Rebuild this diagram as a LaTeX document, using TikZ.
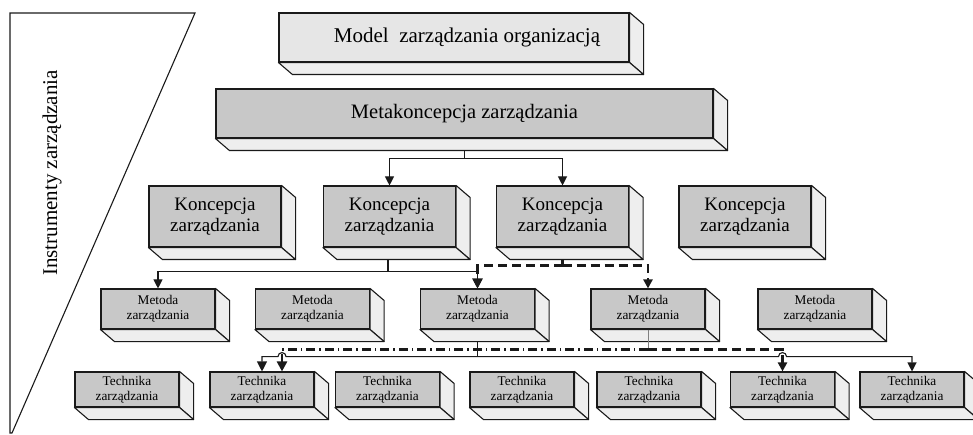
\documentclass[tikz,border=0pt]{standalone}
\usepackage{fontspec}
\setmainfont{Liberation Serif}
\usetikzlibrary{arrows.meta,calc}
\definecolor{boxgray}{HTML}{C8C8C8}
\definecolor{boxlight}{HTML}{E6E6E6}
\definecolor{facegray}{HTML}{EEEEEE}
\definecolor{lnblack}{HTML}{1A1A1A}

\begin{document}
\begin{tikzpicture}[x=1pt,y=-1pt,
    box/.style={draw=lnblack,line width=1.1pt,fill=boxgray,inner sep=0pt,align=center},
    face/.style={draw=lnblack,line width=1.1pt,fill=facegray,line join=round},
    bigbox/.style={box,minimum height=49pt},
    koncbox/.style={box,font=\fontsize{19}{21}\selectfont,minimum width=132pt,minimum height=61pt},
    metbox/.style={box,font=\fontsize{13.3}{15}\selectfont,minimum width=114pt,minimum height=40pt},
    techbox/.style={box,font=\fontsize{13.3}{15}\selectfont,minimum width=104pt,minimum height=35pt},
    conn/.style={line width=1.1pt,draw=lnblack},
    arr/.style={conn,-{Triangle[length=9pt,width=9pt]}},
    dsh/.style={line width=2.4pt,dash pattern=on 9pt off 5pt},
    dshdot/.style={line width=2.4pt,dash pattern=on 9pt off 4pt on 1.5pt off 4pt}]
  \useasboundingbox (0,0) rectangle (973,435);

  % instrumenty
  \draw[line width=1.1pt,draw=lnblack] (10,13) -- (195,13) -- (12,433) -- (10,433) -- cycle;
  \node[rotate=90,font=\fontsize{21}{24}\selectfont] (instr) at (52,173) {Instrumenty zarządzania};

  % poziomy
  \node[bigbox,fill=boxlight,minimum width=350pt,font=\fontsize{21}{24}\selectfont] (model) at (454,37.5)
    {\hspace*{26pt}Model\ \ zarządzania organizacją};
  \node[bigbox,minimum width=497pt,font=\fontsize{20.5}{24}\selectfont] (meta) at (464.5,113.5)
    {Metakoncepcja zarządzania};

  \node[koncbox] (k1) at (215,216.5) {Koncepcja\\zarządzania};
  \node[koncbox] (k2) at (389.5,216.5) {Koncepcja\\zarządzania};
  \node[koncbox] (k3) at (562.5,216.5) {Koncepcja\\zarządzania};
  \node[koncbox] (k4) at (745,216.5) {Koncepcja\\zarządzania};

  \node[metbox] (m1) at (158,309) {Metoda\\zarządzania};
  \node[metbox] (m2) at (312.5,309) {Metoda\\zarządzania};
  \node[metbox] (m3) at (477.5,309) {Metoda\\zarządzania};
  \node[metbox] (m4) at (648,309) {Metoda\\zarządzania};
  \node[metbox] (m5) at (815,309) {Metoda\\zarządzania};

  \node[techbox] (t1) at (127,389.5) {Technika\\zarządzania};
  \node[techbox] (t2) at (262,389.5) {Technika\\zarządzania};
  \node[techbox] (t3) at (387.5,389.5) {Technika\\zarządzania};
  \node[techbox] (t4) at (522,389.5) {Technika\\zarządzania};
  \node[techbox] (t5) at (649,389.5) {Technika\\zarządzania};
  \node[techbox] (t6) at (782.5,389.5) {Technika\\zarządzania};
  \node[techbox] (t7) at (912,389.5) {Technika\\zarządzania};

  % bryly
  \foreach \n in {model,meta,k1,k2,k3,k4,m1,m2,m3,m4,m5,t1,t2,t3,t4,t5,t6,t7}{
    \draw[face] (\n.north east) -- ++(14,12) -- ($(\n.south east)+(14,12)$) -- (\n.south east) -- cycle;
    \draw[face] (\n.south west) -- ++(14,12) -- ($(\n.south east)+(14,12)$) -- (\n.south east) -- cycle;
  }

  % meta -> koncepcje
  \draw[conn] ($(meta.south)+(0,12)$) -- ++(0,8) coordinate (metaj);
  \draw[arr] (metaj) -| (k2.north);
  \draw[arr] (metaj) -| (k3.north);

  % koncepcja -> metody
  \draw[conn] ($(k2.south)+(-1.5,12)$) -- ++(0,12) coordinate (k2j);
  \draw[arr] (k2j) -| (m1.north);
  \draw[arr] (k2j) -| (m3.north);
  \draw[line width=3.5pt,draw=lnblack,dash pattern=on 6pt off 3pt] ($(k3.south)+(0,12)$) -- ++(0,6) coordinate (k3j);
  \draw[arr,dsh,-{Triangle[length=10pt,width=10pt]}] (k3j) -| (m3.north);
  \draw[arr,dsh] (k3j) -| (m4.north);

  % metody -> techniki
  \draw[conn,draw=gray,line width=0.6pt] (m4.south) -- ++(0,20) coordinate (m4j);
  \draw[arr,dshdot,-{Triangle[length=10pt,width=10pt]}] (m4j) -- ($(t2.north|-m4j)+(20,0)$) -- ($(t2.north)+(20,0)$);
  \draw[arr,dsh] (m4j) -| (t6.north);
  \draw[conn] ($(m3.south)+(0,12)$) -- ++(0,15) coordinate (m3j);
  \draw[arr,-{Triangle[length=10pt,width=10pt]}] (m3j) -- ($(t2.north|-m3j)+(24,0)$) arc[start angle=0,end angle=-180,radius=4]
    -- (t2.north|-m3j) -- (t2.north);
  \draw[arr] (m3j) -- ($(t6.north|-m3j)+(-4,0)$) arc[start angle=180,end angle=360,radius=4]
    -- (t7.north|-m3j) -- (t7.north);
\end{tikzpicture}
\end{document}
